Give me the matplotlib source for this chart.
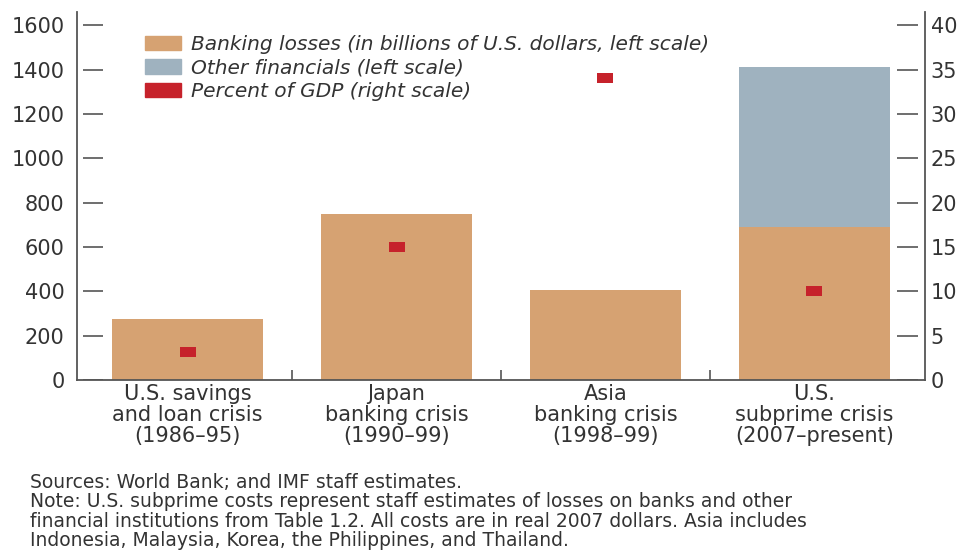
import matplotlib.pyplot as plt
from matplotlib.patches import Patch
import numpy as np

plt.rcParams['font.family'] = ['DejaVu Sans']

# data
crises = ["U.S. savings\nand loan crisis\n(1986\u201395)",
          "Japan\nbanking crisis\n(1990\u201399)",
          "Asia\nbanking crisis\n(1998\u201399)",
          "U.S.\nsubprime crisis\n(2007\u2013present)"]
banking_losses = [275, 750, 405, 690]
other_financials = [0, 0, 0, 720]
pct_gdp = [3.2, 15, 34, 10]
left_ticks = [0, 200, 400, 600, 800, 1000, 1200, 1400, 1600]
right_ticks = [0, 5, 10, 15, 20, 25, 30, 35, 40]
legend_labels = ["Banking losses (in billions of U.S. dollars, left scale)",
                 "Other financials (left scale)",
                 "Percent of GDP (right scale)"]

tan = '#D6A272'
grey_blue = '#9FB2BF'
red = '#C6222B'
txt = '#333333'
spine = '#555555'

fig = plt.figure(figsize=(9.67, 5.52), dpi=100)
ax = fig.add_axes([0.0796, 0.3116, 0.877, 0.6667])
x = np.arange(len(crises))

ax.bar(x, banking_losses, width=0.72, color=tan, zorder=2)
ax.bar(x, other_financials, width=0.72, bottom=banking_losses, color=grey_blue, zorder=2)
ax.set_xlim(-0.53, 3.53)
ax.set_ylim(0, 1660)
ax.set_yticks(left_ticks)
ax.set_xticks(x)
ax.set_xticklabels(crises, fontsize=15, color=txt, linespacing=1.05)
ax.set_xticks([0.5, 1.5, 2.5], minor=True)
ax.tick_params(axis='x', which='major', length=0, pad=3)
ax.tick_params(axis='x', which='minor', direction='in', length=7, width=1.2, color=spine)
ax.tick_params(axis='y', length=0, labelsize=15, labelcolor=txt, pad=9)
# tick dashes sit a little off the axis line, as in the original
ax.hlines(left_ticks, 0.007, 0.031, transform=ax.get_yaxis_transform(),
          color=spine, linewidth=1.2, zorder=1)
for s in ['top', 'right']:
    ax.spines[s].set_visible(False)
for s in ['left', 'bottom']:
    ax.spines[s].set_color(spine)
    ax.spines[s].set_linewidth(1.3)

ax2 = ax.twinx()
ax2.set_ylim(0, 41.5)
ax2.set_yticks(right_ticks)
rect = [(-1, -0.6), (1, -0.6), (1, 0.6), (-1, 0.6), (-1, -0.6)]
ax2.plot(x, pct_gdp, linestyle='none', marker=rect, markersize=11,
         color=red, markeredgewidth=0, zorder=3)
ax2.tick_params(axis='y', length=0, labelsize=15, labelcolor=txt, pad=4)
ax2.hlines(right_ticks, 0.967, 0.992, transform=ax2.get_yaxis_transform(),
           color=spine, linewidth=1.2, zorder=1)
for s in ['top', 'left', 'bottom']:
    ax2.spines[s].set_visible(False)
ax2.spines['right'].set_color(spine)
ax2.spines['right'].set_linewidth(1.3)

handles = [Patch(color=c) for c in [tan, grey_blue, red]]
ax2.legend(handles, legend_labels, loc='upper left', bbox_to_anchor=(0.068, 0.965),
           frameon=False, borderpad=0, handlelength=1.8, handleheight=0.72,
           handletextpad=0.5, labelspacing=0.22,
           prop={'style': 'italic', 'size': 14.5}, labelcolor=txt)

note = ("Sources: World Bank; and IMF staff estimates.\n"
        "Note: U.S. subprime costs represent staff estimates of losses on banks and other\n"
        "financial institutions from Table 1.2. All costs are in real 2007 dollars. Asia includes\n"
        "Indonesia, Malaysia, Korea, the Philippines, and Thailand.")
fig.text(0.031, 0.143, note, fontsize=13.5, color=txt, va='top', ha='left', linespacing=1.02)

fig.savefig('out.png', dpi=100)
